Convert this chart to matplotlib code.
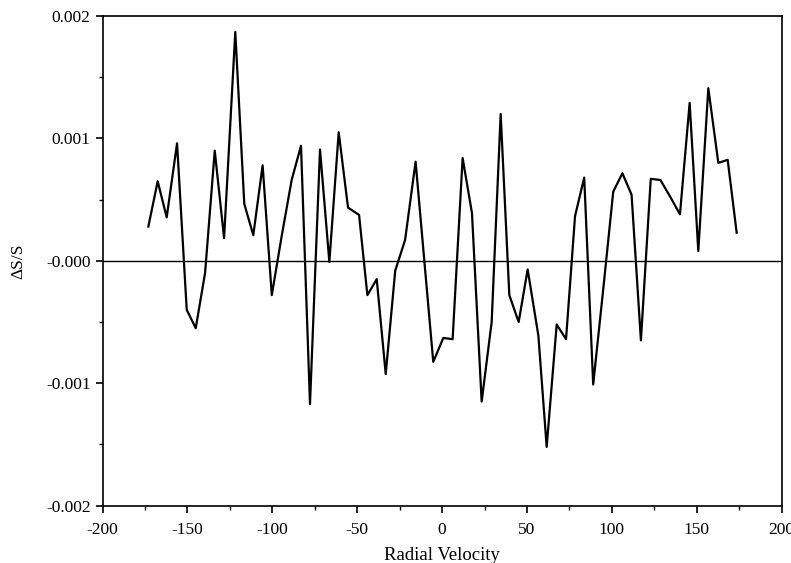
import matplotlib
matplotlib.use("Agg")
from matplotlib import pyplot as plt
from matplotlib.ticker import MultipleLocator, FixedLocator, FixedFormatter

# values
velocity = [-173.0, -167.5, -162.2, -156.1, -150.4, -145.1, -139.6, -133.9, -128.4, -121.8,
            -116.5, -111.2, -105.7, -100.3, -94.5, -88.6, -83.1, -77.8, -71.9, -66.4,
            -60.9, -55.4, -48.9, -44.0, -38.5, -33.2, -27.6, -21.8, -15.6, -10.4,
            -5.2, 0.7, 6.2, 12.1, 17.6, 23.3, 29.2, 34.5, 39.6, 45.1,
            50.4, 56.7, 61.6, 67.5, 73.0, 78.3, 83.7, 89.0, 95.0, 100.8,
            106.2, 111.6, 117.1, 122.9, 128.6, 134.5, 140.1, 145.8, 150.9, 156.8,
            162.7, 168.2, 173.5]
dS_S = [0.00028, 0.00065, 0.000355, 0.00096, -0.0004, -0.00055, -0.0001, 0.0009, 0.000185, 0.00187,
        0.000465, 0.00021, 0.00078, -0.00028, 0.0002, 0.00066, 0.00094, -0.00117, 0.00091, -0.00001,
        0.00105, 0.000435, 0.000375, -0.00028, -0.00015, -0.000925, -0.00008, 0.00017, 0.00081, -0.00001,
        -0.000825, -0.00063, -0.00064, 0.00084, 0.00039, -0.00115, -0.0005, 0.0012, -0.00028, -0.0005,
        -0.00007, -0.00061, -0.00152, -0.00052, -0.00064, 0.000365, 0.00068, -0.00101, -0.00022, 0.000565,
        0.000715, 0.00054, -0.00065, 0.00067, 0.00066, 0.00052, 0.00038, 0.00129, 0.00008, 0.00141,
        0.0008, 0.000825, 0.00023]

ytick_vals = [-0.002, -0.001, 0.0, 0.001, 0.002]
ytick_labels = ["-0.002", "-0.001", "-0.000", "0.001", "0.002"]

plt.rcParams['font.family'] = ['Liberation Serif', 'DejaVu Serif']
plt.rcParams['axes.unicode_minus'] = False

fig = plt.figure(figsize=(7.91, 5.63), dpi=100)
ax = fig.add_axes([0.1296, 0.1018, 0.8586, 0.8698])

ax.axhline(0, color='black', lw=1.0)
ax.plot(velocity, dS_S, color='black', lw=1.6)

ax.set_xlim(-200, 200)
ax.set_ylim(-0.002, 0.002)
ax.xaxis.set_major_locator(MultipleLocator(50))
ax.xaxis.set_minor_locator(MultipleLocator(25))
ax.yaxis.set_major_locator(FixedLocator(ytick_vals))
ax.yaxis.set_major_formatter(FixedFormatter(ytick_labels))
ax.yaxis.set_minor_locator(MultipleLocator(0.0005))

ax.tick_params(which='major', direction='out', length=5, width=1.2, labelsize=12.5)
ax.tick_params(axis='x', which='major', pad=7)
ax.tick_params(which='minor', direction='out', length=3, width=1.0)
for s in ax.spines.values():
    s.set_linewidth(1.2)

ax.set_xlabel('Radial Velocity', fontsize=13.5, labelpad=6)
ax.set_ylabel('ΔS/S', fontsize=12.5, labelpad=14)

fig.savefig('out.png', dpi=100)
